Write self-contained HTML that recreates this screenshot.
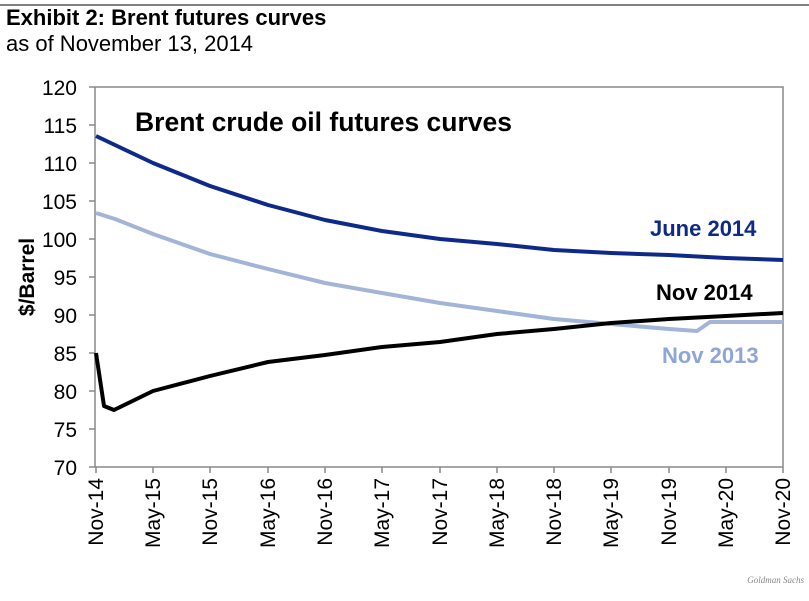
<!DOCTYPE html>
<html><head><style>
body{margin:0;background:#fff;width:809px;height:596px;overflow:hidden;font-family:"Liberation Sans",Arial,sans-serif}
</style></head><body>
<svg width="809" height="596" xmlns="http://www.w3.org/2000/svg" font-family="Liberation Sans, Arial, sans-serif">
<line x1="0" y1="5" x2="809" y2="5" stroke="#000" stroke-width="1"/>
<text x="6" y="25" font-size="22" font-weight="bold">Exhibit 2: Brent futures curves</text>
<text x="6" y="51" font-size="22">as of November 13, 2014</text>
<g stroke="#888" stroke-width="1.5" fill="none">
<polyline points="95,87 783,87 783,467"/>
<line x1="95" y1="87" x2="95" y2="467"/>
<line x1="89" y1="467" x2="783" y2="467"/>
</g>
<g stroke="#888" stroke-width="1.5">
<line x1="89" y1="87" x2="95" y2="87"/><line x1="89" y1="125" x2="95" y2="125"/><line x1="89" y1="163" x2="95" y2="163"/><line x1="89" y1="201" x2="95" y2="201"/><line x1="89" y1="239" x2="95" y2="239"/><line x1="89" y1="277" x2="95" y2="277"/><line x1="89" y1="315" x2="95" y2="315"/><line x1="89" y1="353" x2="95" y2="353"/><line x1="89" y1="391" x2="95" y2="391"/><line x1="89" y1="429" x2="95" y2="429"/>
<line x1="96" y1="467" x2="96" y2="473"/><line x1="153" y1="467" x2="153" y2="473"/><line x1="210" y1="467" x2="210" y2="473"/><line x1="268" y1="467" x2="268" y2="473"/><line x1="325" y1="467" x2="325" y2="473"/><line x1="382" y1="467" x2="382" y2="473"/><line x1="440" y1="467" x2="440" y2="473"/><line x1="497" y1="467" x2="497" y2="473"/><line x1="554" y1="467" x2="554" y2="473"/><line x1="611" y1="467" x2="611" y2="473"/><line x1="669" y1="467" x2="669" y2="473"/><line x1="726" y1="467" x2="726" y2="473"/><line x1="783" y1="467" x2="783" y2="473"/>
</g>
<g font-size="21" text-anchor="end">
<text x="77" y="95">120</text><text x="77" y="133">115</text><text x="77" y="171">110</text><text x="77" y="209">105</text><text x="77" y="247">100</text><text x="77" y="285">95</text><text x="77" y="323">90</text><text x="77" y="361">85</text><text x="77" y="399">80</text><text x="77" y="437">75</text><text x="77" y="475">70</text>
</g>
<g font-size="21" text-anchor="end">
<text transform="translate(103,478) rotate(-90)">Nov-14</text>
<text transform="translate(160,478) rotate(-90)">May-15</text>
<text transform="translate(217,478) rotate(-90)">Nov-15</text>
<text transform="translate(275,478) rotate(-90)">May-16</text>
<text transform="translate(332,478) rotate(-90)">Nov-16</text>
<text transform="translate(389,478) rotate(-90)">May-17</text>
<text transform="translate(447,478) rotate(-90)">Nov-17</text>
<text transform="translate(504,478) rotate(-90)">May-18</text>
<text transform="translate(561,478) rotate(-90)">Nov-18</text>
<text transform="translate(618,478) rotate(-90)">May-19</text>
<text transform="translate(676,478) rotate(-90)">Nov-19</text>
<text transform="translate(733,478) rotate(-90)">May-20</text>
<text transform="translate(790,478) rotate(-90)">Nov-20</text>
</g>
<text transform="translate(34,277) rotate(-90)" font-size="21" font-weight="bold" text-anchor="middle">$/Barrel</text>
<text x="135" y="131" font-size="26.5" font-weight="bold">Brent crude oil futures curves</text>
<g fill="none" stroke-width="4" stroke-linejoin="round">
<polyline stroke="#0d2a8a" points="96,136 115,145 153,163 210,186 268,205 325,220 382,231 440,239 497,244 554,250 611,253 669,255 726,258 783,260"/>
<polyline stroke="#a3b4d9" points="96,213 115,219 153,234 210,254 268,269 325,283 382,293 440,303 497,311 554,319 611,324 669,329 697,331 710,322 783,322"/>
<polyline stroke="#000" points="96,353 104,406 114,410 153,391 210,376 268,362 325,355 382,347 440,342 497,334 554,329 611,323 669,319 726,316 783,313"/>
</g>
<text x="650" y="236" font-size="22" font-weight="bold" fill="#0d2a8a">June 2014</text>
<text x="656" y="300" font-size="22" font-weight="bold" fill="#000">Nov 2014</text>
<text x="662" y="363" font-size="22" font-weight="bold" fill="#8fa5d6">Nov 2013</text>
<text x="804" y="583" font-size="9" font-style="italic" fill="#888" text-anchor="end" font-family="Liberation Serif, serif">Goldman Sachs</text>
</svg>
</body></html>
